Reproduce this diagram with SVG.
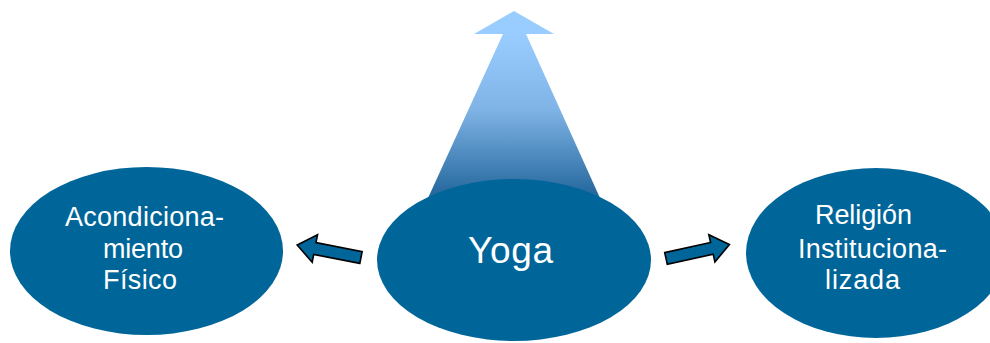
<svg xmlns="http://www.w3.org/2000/svg" width="990" height="343" viewBox="0 0 990 343">
<defs>
<linearGradient id="beam" x1="0" y1="34" x2="0" y2="200" gradientUnits="userSpaceOnUse">
<stop offset="0" stop-color="#99CCFF"/>
<stop offset="0.45" stop-color="#80B4E6"/>
<stop offset="1" stop-color="#1F6399"/>
</linearGradient>
<style>
.node{fill:#006699;}
.lbl{fill:#FFFFFF;font-family:"Liberation Sans",Arial,sans-serif;font-size:27px;}
.big{font-size:37px;}
.arr{fill:#006699;stroke:#000000;stroke-width:1.6;stroke-linejoin:miter;}
</style>
</defs>
<rect width="990" height="343" fill="#FFFFFF"/>
<g id="beam-up">
<polygon points="503,34 526,34 600,198 428,198" fill="url(#beam)"/>
<polygon points="514,11 554,34 474,34" fill="#99CCFF"/>
</g>
<g id="node-acondicionamiento">
<ellipse class="node" cx="146.5" cy="251" rx="136.5" ry="84"/>
<text class="lbl" x="65" y="226" textLength="159" lengthAdjust="spacing">Acondiciona-</text>
<text class="lbl" x="103" y="258" textLength="80" lengthAdjust="spacing">miento</text>
<text class="lbl" x="103" y="289" textLength="74" lengthAdjust="spacing">Físico</text>
</g>
<g id="node-yoga">
<ellipse class="node" cx="514" cy="260" rx="137" ry="81"/>
<text class="lbl big" x="468" y="263" textLength="85" lengthAdjust="spacing">Yoga</text>
</g>
<g id="node-religion">
<ellipse class="node" cx="876" cy="253" rx="130" ry="85"/>
<text class="lbl" x="815" y="224" textLength="97" lengthAdjust="spacing">Religión</text>
<text class="lbl" x="798" y="258" textLength="149" lengthAdjust="spacing">Instituciona-</text>
<text class="lbl" x="825" y="289" textLength="75" lengthAdjust="spacing">lizada</text>
</g>
<g id="connectors">
<polygon class="arr" transform="translate(361,257.5) rotate(-169)" points="0,-6 47,-6 47,-14 65,0 47,14 47,6 0,6"/>
<polygon class="arr" transform="translate(666,258.5) rotate(-12.5)" points="0,-6 47,-6 47,-14 65,0 47,14 47,6 0,6"/>
</g>
</svg>
